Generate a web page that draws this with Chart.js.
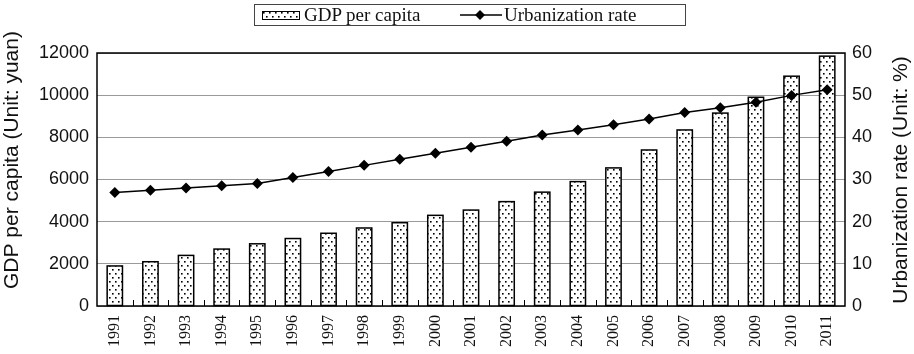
<!DOCTYPE html>
<html>
<head>
<meta charset="utf-8">
<script src="https://cdn.jsdelivr.net/npm/chart.js@4.4.0/dist/chart.umd.min.js"></script>
<style>
  body { margin: 0; background: #fff; }
  #wrap { position: relative; width: 914px; height: 354px; }
  #legend {
    position: absolute; left: 254px; top: 4px; width: 432px; height: 22px;
    border: 1px solid #444; box-sizing: border-box;
    font-family: "Liberation Serif", serif; font-size: 19px; color: #111;
  }
  #legend span { position: absolute; top: 0px; line-height: 20px; }
  #swatch { position: absolute; left: 7px; top: 6px; }
  #lineSample { position: absolute; left: 204px; top: 1px; }
</style>
</head>
<body>
<div id="wrap">
  <canvas id="chart" width="914" height="354"></canvas>
  <div id="legend">
    <canvas id="swatch" width="38" height="9"></canvas>
    <span style="left:49px">GDP per capita</span>
    <svg id="lineSample" width="44" height="18">
      <line x1="1" y1="9" x2="43" y2="9" stroke="#000" stroke-width="1.5"/>
      <polygon points="21,4 26,9 21,14 16,9" fill="#000"/>
    </svg>
    <span style="left:249px">Urbanization rate</span>
  </div>
</div>
<script>
  const years = ['1991', '1992', '1993', '1994', '1995', '1996', '1997', '1998', '1999', '2000',
    '2001', '2002', '2003', '2004', '2005', '2006', '2007', '2008', '2009', '2010', '2011'];
  const gdpPerCapita = [1900, 2100, 2400, 2700, 2950, 3200, 3450, 3700, 3950, 4300,
    4550, 4950, 5400, 5900, 6550, 7400, 8350, 9150, 9900, 10900, 11850];
  const urbanRate = [26.94, 27.46, 27.99, 28.51, 29.04, 30.48, 31.91, 33.35, 34.78, 36.22,
    37.66, 39.09, 40.53, 41.76, 42.99, 44.34, 45.89, 46.99, 48.34, 49.95, 51.27];
  const leftTitle = 'GDP per capita (Unit: yuan)';
  const rightTitle = 'Urbanization rate (Unit: %)';

  // dotted fill for the bars
  function makeDots() {
    const c = document.createElement('canvas');
    c.width = 6; c.height = 8;
    const g = c.getContext('2d');
    g.fillStyle = '#fff';
    g.fillRect(0, 0, 6, 8);
    g.fillStyle = '#000';
    g.fillRect(1, 1, 1.6, 1.6);
    g.fillRect(4, 5, 1.6, 1.6);
    return g.createPattern(c, 'repeat');
  }
  const dots = makeDots();

  const sw = document.getElementById('swatch').getContext('2d');
  sw.fillStyle = makeDots();
  sw.fillRect(0, 0, 38, 9);
  sw.strokeStyle = '#000';
  sw.lineWidth = 1;
  sw.strokeRect(0.5, 0.5, 37, 8);

  const sans = 'Liberation Sans';

  // frame, inner ticks, bar outlines and the two axis titles
  const extras = {
    id: 'extras',
    afterDatasetDraw(chart, args) {
      if (args.index !== 1) return;
      const ctx = chart.ctx;
      ctx.save();
      ctx.strokeStyle = '#000';
      ctx.lineWidth = 1.5;
      args.meta.data.forEach(bar => {
        const w = bar.width;
        ctx.strokeRect(bar.x - w / 2, bar.y, w, bar.base - bar.y);
      });
      ctx.restore();
    },
    afterDraw(chart) {
      const ctx = chart.ctx;
      const a = chart.chartArea;
      const xs = chart.scales.x;
      ctx.save();
      ctx.strokeStyle = '#000';
      ctx.lineWidth = 1;
      for (let i = 1; i < years.length; i++) {
        const px = Math.round((xs.getPixelForValue(i - 1) + xs.getPixelForValue(i)) / 2) + 0.5;
        ctx.beginPath();
        ctx.moveTo(px, a.bottom);
        ctx.lineTo(px, a.bottom - 6);
        ctx.stroke();
      }
      ctx.lineWidth = 1.5;
      ctx.strokeRect(a.left, a.top, a.right - a.left, a.bottom - a.top);

      ctx.fillStyle = '#111';
      ctx.font = '21px "' + sans + '"';
      ctx.textAlign = 'center';
      ctx.textBaseline = 'middle';
      ctx.translate(12, 160);
      ctx.rotate(-Math.PI / 2);
      ctx.fillText(leftTitle, 0, 0);
      ctx.setTransform(1, 0, 0, 1, 0, 0);
      ctx.translate(901, 180);
      ctx.rotate(-Math.PI / 2);
      ctx.fillText(rightTitle, 0, 0);
      ctx.restore();
    }
  };

  new Chart(document.getElementById('chart'), {
    data: {
      labels: years,
      datasets: [{
        type: 'line',
        label: 'Urbanization rate',
        data: urbanRate,
        yAxisID: 'y1',
        borderColor: '#000',
        backgroundColor: '#000',
        borderWidth: 1.5,
        pointStyle: 'rectRot',
        pointRadius: 5.5,
        pointBorderWidth: 0,
        tension: 0,
        order: 0
      }, {
        type: 'bar',
        label: 'GDP per capita',
        data: gdpPerCapita,
        yAxisID: 'y',
        backgroundColor: dots,
        borderWidth: 0,
        categoryPercentage: 1,
        barPercentage: 0.43,
        order: 1
      }]
    },
    options: {
      responsive: false,
      animation: false,
      layout: { padding: { top: 53, left: 0, right: 0, bottom: 0 } },
      plugins: { legend: { display: false }, tooltip: { enabled: false } },
      scales: {
        x: {
          grid: { display: false, drawTicks: false },
          border: { display: false },
          ticks: {
            autoSkip: false, minRotation: 90, maxRotation: 90, padding: 9,
            color: '#111', font: { family: 'Liberation Serif', size: 16 }
          },
          afterFit(scale) { scale.height = 48; }
        },
        y: {
          position: 'left',
          min: 0, max: 12000,
          grid: { color: '#9a9a9a', lineWidth: 1, drawTicks: false },
          border: { display: false },
          ticks: {
            stepSize: 2000, padding: 8, color: '#111',
            font: { family: sans, size: 18 },
            callback: v => String(v)
          },
          afterFit(scale) { scale.width = 97; }
        },
        y1: {
          position: 'right',
          min: 0, max: 60,
          grid: { display: false, drawTicks: false },
          border: { display: false },
          ticks: {
            stepSize: 10, padding: 7, color: '#111',
            font: { family: sans, size: 18 },
            callback: v => String(v)
          },
          afterFit(scale) { scale.width = 69; }
        }
      }
    },
    plugins: [extras]
  });
</script>
</body>
</html>
